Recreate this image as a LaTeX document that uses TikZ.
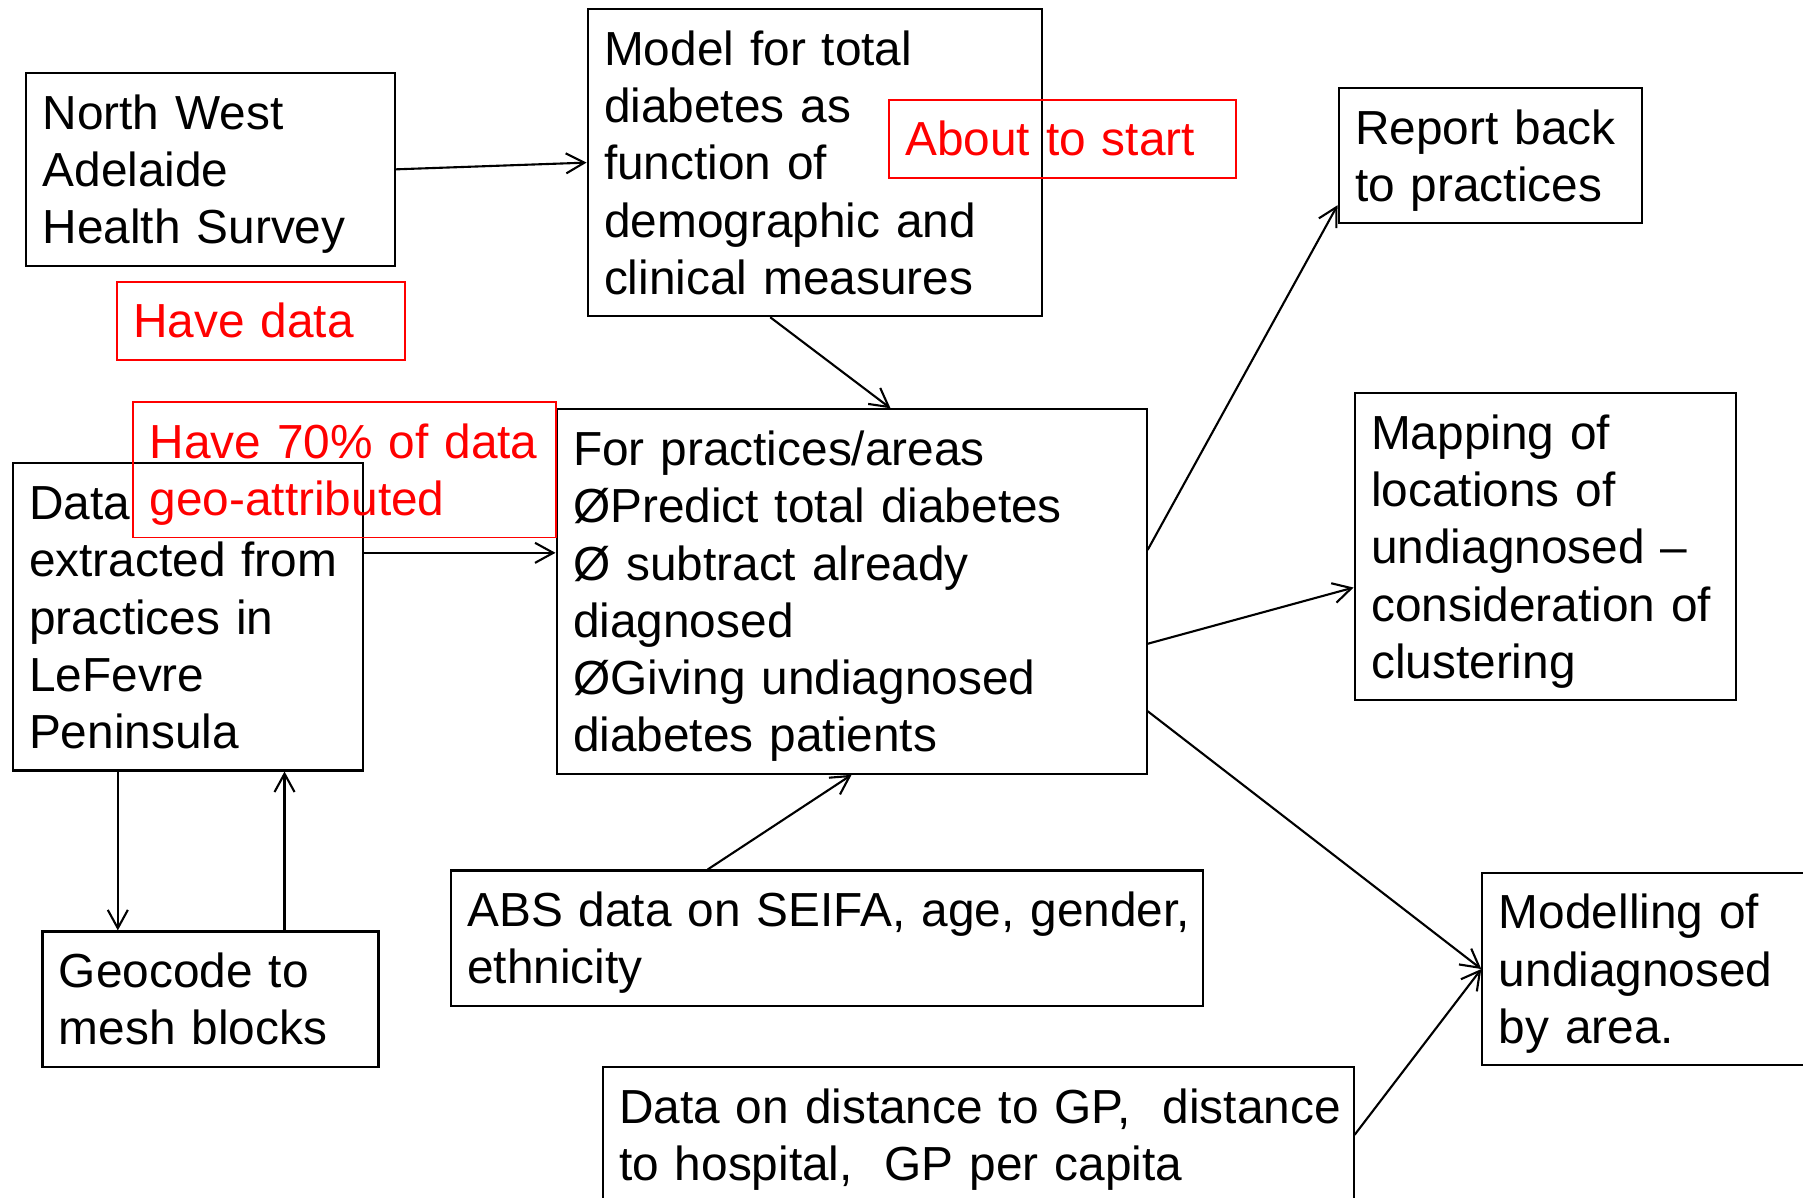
\documentclass[tikz,border=0pt]{standalone}
\usepackage{fontspec}
\setmainfont{Liberation Sans}
\usetikzlibrary{positioning}
\usetikzlibrary{arrows.meta}
\usetikzlibrary{calc}

\newcommand{\tstrut}{\rule[-3pt]{0pt}{15.73pt}}

\tikzset{
  box/.style={draw, line width=0.6pt, anchor=north west, align=left,
    inner xsep=4.7pt, inner ysep=3.23pt,
    font=\fontsize{13.6pt}{16.3pt}\selectfont,
    execute at begin node={\hyphenpenalty=10000\tstrut},
    execute at end node=\tstrut},
  note/.style={box, draw=red, text=red, line width=0.45pt},
  link/.style={->, line width=0.6pt},
  >={Straight Barb[length=5.2pt,width=5.7pt]}
}

\begin{document}
\begin{tikzpicture}
		\clip (0,0) rectangle (18.03,11.97);

		% Define the corners of the boxes
		\coordinate (N1) at (0.25,11.25);
		\coordinate (N2) at (1.16,9.16);
		\coordinate (N3) at (5.865,11.89);
		\coordinate (N4) at (8.88,10.98);
		\coordinate (N5) at (13.375,11.10);
		\coordinate (N6) at (1.323,7.956);
		\coordinate (N7) at (0.115,7.347);
		\coordinate (N8) at (5.555,7.887);
		\coordinate (N9) at (13.536,8.048);
		\coordinate (N10) at (0.414,2.666);
		\coordinate (N11) at (4.497,3.276);
		\coordinate (N12) at (14.813,3.253);
		\coordinate (N13) at (6.015,1.309);

		% Boxes
		\node[box, text width=3.36cm] (nwahs) at (N1) {North West\\Adelaide\\Health Survey};
		\node[box, text width=4.21cm] (model) at (N3) {Model for total\\diabetes as\\function of\\demographic and\\clinical measures};
		\node[box, text width=2.70cm] (report) at (N5) {Report back\\to practices};
		\node[box, text width=3.17cm] (extracted) at (N7) {Data\\extracted from\\practices in\\LeFevre\\Peninsula};
		\node[box, text width=5.57cm] (predict) at (N8) {For practices/areas\\ØPredict total diabetes\\Ø subtract already\\diagnosed\\ØGiving undiagnosed\\diabetes patients};
		\node[box, text width=3.48cm] (mapping) at (N9) {Mapping of\\locations of\\undiagnosed~–\\consideration~of\\clustering};
		\node[box, text width=3.03cm] (geocode) at (N10) {Geocode to\\mesh blocks};
		\node[box, text width=7.19cm] (abs) at (N11) {ABS~data~on~SEIFA,~age,~gender,\\ethnicity};
		\node[box, text width=3.07cm] (modelling) at (N12) {Modelling of\\undiagnosed\\by area.};
		\node[box, text width=7.18cm] (distance) at (N13) {Data~on~distance~to~GP,~~distance\\to~hospital,~~GP~per~capita};

		% Status notes
		\node[note, text width=2.55cm] (havedata) at (N2) {Have data};
		\node[note, text width=3.14cm] (starting) at (N4) {About to start};
		\node[note, text width=3.90cm] (geoshare) at (N6) {Have 70\%~of~data\\geo-attributed};

		\coordinate (gdown) at ($(geocode.north west)!0.226!(geocode.north east)$);
		\coordinate (gup) at ($(geocode.north west)!0.719!(geocode.north east)$);

		% Draw the arrows
		\foreach \a/\b in {nwahs.east/model.west, model.-106/predict.78,
			extracted.20/extracted.20 -| predict.west, predict.8/report.198,
			predict.-10/mapping.192, predict.-22/modelling.west,
			abs.150.5/predict.south, distance.east/modelling.west,
			gdown |- extracted.south/gdown, gup/gup |- extracted.south}
			\draw[link] (\a) -- (\b);
	\end{tikzpicture}
\end{document}
